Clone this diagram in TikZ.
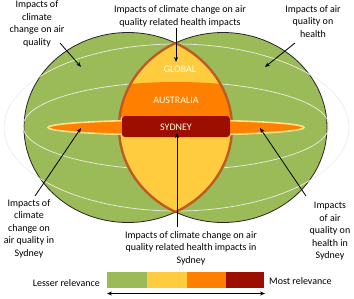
\documentclass[tikz,border=0pt]{standalone}
\usepackage{fontspec}
\setmainfont{Carlito}
\usetikzlibrary{arrows.meta}
\definecolor{cgreen}{HTML}{9BBB59}
\definecolor{cyellow}{HTML}{FFCC40}
\definecolor{corange}{HTML}{FF7F00}
\definecolor{cred}{HTML}{9B0E00}
\definecolor{cbrown}{HTML}{BF5B22}
\definecolor{cring}{HTML}{ECECE6}
\definecolor{cglow}{HTML}{FFE08A}
\begin{document}
\begin{tikzpicture}[x=1pt,y=-1pt,
  lbl/.style={font=\fontsize{10}{12.5}\selectfont, align=center, inner sep=0pt, text=black},
  arr/.style={-{Stealth[length=5pt,width=4pt]}, line width=0.8pt},
  ring/.style={draw=cring, line width=0.7pt},
  bandtxt/.style={font=\fontsize{10}{12}\selectfont, text=white!90!yellow, inner sep=0pt},
  bigE/.style={x radius=104pt, y radius=95pt}]
\useasboundingbox (0,0) rectangle (354,298);
\coordinate (cL) at (128,127.5);
\coordinate (cR) at (223,127.5);
\coordinate (cM) at (176,127.5);
% green ellipses
\fill[cgreen] (cL) ellipse [bigE];
\fill[cgreen] (cR) ellipse [bigE];
\draw[black!85, line width=0.8pt] (cL) ellipse [bigE];
\draw[black!85, line width=0.8pt] (cR) ellipse [bigE];
% rings
\draw[ring] (176.5,127.5) ellipse [x radius=172.5pt, y radius=83.5pt];
\draw[ring] (176,126) ellipse [x radius=153pt, y radius=44pt];
% lens
\begin{scope}
  \clip (cL) ellipse [bigE];
  \fill[cyellow] (cR) ellipse [bigE];
  \begin{scope}
    \clip (cR) ellipse [bigE];
    \clip (176,126) ellipse [x radius=153pt, y radius=44pt];
    \fill[corange] (0,0) rectangle (354,117);
  \end{scope}
  \draw[cbrown, line width=2.4pt] (cR) ellipse [bigE];
\end{scope}
\begin{scope}
  \clip (cR) ellipse [bigE];
  \draw[cbrown, line width=2.4pt] (cL) ellipse [bigE];
\end{scope}
% small orange ellipse
\filldraw[draw=cglow, fill=corange, line width=1.6pt] (cM) ellipse [x radius=128pt, y radius=7.5pt];
% bands
\node[fill=cred, rounded corners=3pt, minimum width=108pt, minimum height=21pt, inner sep=0pt] (sydney) at (176,126.5) {};
\node[bandtxt] (sydtxt) at (176,127) {SYDNEY};
\node[bandtxt] (global) at (180,69) {GLOBAL};
\node[bandtxt] (australia) at (176,100) {AUSTRALIA};
% labels
\node[lbl] (tl) at (37,24) {Impacts of\\climate\\change on air\\quality};
\node[lbl] (tc) at (180,16.5) {Impacts of climate change on air\\quality related health impacts};
\node[lbl] (tr) at (313,21.5) {Impacts of air\\quality on\\health};
\node[lbl] (bl) at (29,228.5) {Impacts of\\climate\\change on\\air quality in\\Sydney};
\node[lbl] (br) at (330,231.5) {Impacts\\of air\\quality on\\health in\\Sydney};
\node[lbl] (bc) at (191,248) {Impacts of climate change on air\\quality related health impacts in\\Sydney};
% arrows
\coordinate (a1s) at (60,43);   \coordinate (a1e) at (81,67);
\coordinate (a2s) at (176,28);  \coordinate (a2e) at (176,62);
\coordinate (a3s) at (295,43);  \coordinate (a3e) at (265,67);
\coordinate (a4s) at (35,196);  \coordinate (a4e) at (81,128);
\coordinate (a5s) at (306,196); \coordinate (a5e) at (260,128);
\coordinate (a6s) at (177,227); \coordinate (a6e) at (177,133);
\draw[arr] (a1s) -- (a1e);
\draw[arr] (a2s) -- (a2e);
\draw[arr] (a3s) -- (a3e);
\draw[arr] (a4s) -- (a4e);
\draw[arr] (a5s) -- (a5e);
\draw[arr] (a6s) -- (a6e);
% legend
\fill[cgreen] (107,272) rectangle (147,288);
\fill[cyellow] (147,272) rectangle (187,288);
\fill[corange] (187,272) rectangle (226,288);
\fill[cred] (226,272) rectangle (264,288);
\node[lbl, anchor=east] (lesser) at (100,283) {Lesser relevance};
\node[lbl, anchor=west] (most) at (269,281.5) {Most relevance};
\coordinate (la) at (107,293.5);
\coordinate (lb) at (265,293.5);
\draw[{Stealth[length=5pt,width=4pt]}-{Stealth[length=5pt,width=4pt]}, line width=0.8pt] (la) -- (lb);
\end{tikzpicture}
\end{document}
